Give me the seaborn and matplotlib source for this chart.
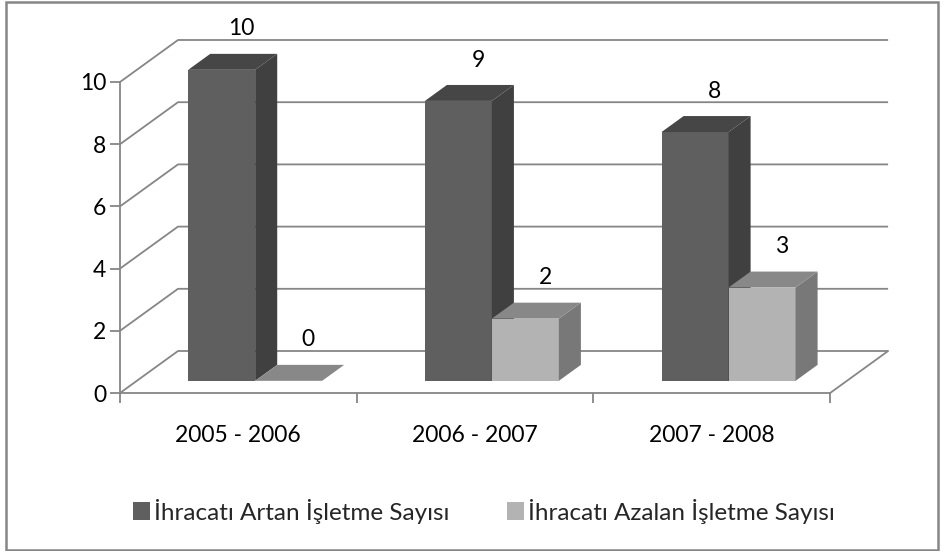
import matplotlib
matplotlib.use("Agg")
import matplotlib.pyplot as plt
import seaborn as sns
import pandas as pd
from matplotlib.patches import Polygon, Rectangle

# ---- data ----
periods = ["2005 - 2006", "2006 - 2007", "2007 - 2008"]
increased = [10, 9, 8]
decreased = [0, 2, 3]
series_names = ["İhracatı Artan İşletme Sayısı", "İhracatı Azalan İşletme Sayısı"]
y_ticks = [0, 2, 4, 6, 8, 10]

df = pd.DataFrame({
    "period": periods * 2,
    "value": increased + decreased,
    "series": [series_names[0]] * len(periods) + [series_names[1]] * len(periods),
})

# ---- style ----
sns.set_theme(style="white")
plt.rcParams["font.family"] = ["Lato", "DejaVu Sans"]
FS = 16.5
FS_LEG = 17.5
GRID = "#868686"

front_col = {series_names[0]: "#5f5f5f", series_names[1]: "#b3b3b3"}
top_col = ["#464646", "#888888"]
side_col = ["#404040", "#787878"]

W, H = 944, 551
fig = plt.figure(figsize=(W / 100, H / 100), dpi=100)
ax = fig.add_axes([120 / W, 158 / H, 768 / W, 355 / H])

sns.barplot(data=df, x="period", y="value", hue="series", palette=front_col,
            width=0.566, saturation=1, errorbar=None, linewidth=0, ax=ax)

ax.set_xlim(-0.5, -0.5 + 768 / 236.7)
ax.set_ylim(0, 355 / 31.1)

# oblique projection parameters (fraction of depth -> offsets in data units)
DX = 58 / 236.7
DY = 42 / 31.1
F0 = 0.29   # front depth of bars
FD = 0.38   # bar depth
bdx, bdy = FD * DX, FD * DY

# back wall gridlines + diagonals
for v in y_ticks:
    ax.plot([-0.5, -0.5 + DX, 2.5 + DX], [v, v + DY, v + DY], color=GRID,
            lw=1.3, zorder=1, clip_on=False, solid_capstyle="butt")
ax.plot([2.5, 2.5 + DX], [0, DY], color=GRID, lw=1.3, zorder=1, clip_on=False)

# 3D faces
for i, cont in enumerate(ax.containers):
    z = 2 + i
    for p in cont.patches:
        x0 = p.get_x() + F0 * DX
        y0 = F0 * DY
        w = p.get_width()
        h = p.get_height()
        p.set_x(x0)
        p.set_y(y0)
        p.set_zorder(z)
        side = Polygon([(x0 + w, y0), (x0 + w + bdx, y0 + bdy),
                        (x0 + w + bdx, y0 + h + bdy), (x0 + w, y0 + h)],
                       closed=True, facecolor=side_col[i], edgecolor="none", zorder=z)
        top = Polygon([(x0, y0 + h), (x0 + w, y0 + h),
                       (x0 + w + bdx, y0 + h + bdy), (x0 + bdx, y0 + h + bdy)],
                      closed=True, facecolor=top_col[i], edgecolor="none", zorder=z)
        ax.add_patch(side)
        ax.add_patch(top)
        ax.text(x0 + w / 2 + bdx - 0.01, y0 + h + bdy + 0.8, f"{h:g}",
                ha="center", va="center", fontsize=FS, color="black", zorder=5)

# spines / ticks
for s in ["top", "right"]:
    ax.spines[s].set_visible(False)
ax.spines["left"].set_bounds(0, 10)
ax.spines["bottom"].set_bounds(-0.5, 2.5)
for s in ["left", "bottom"]:
    ax.spines[s].set_color(GRID)
    ax.spines[s].set_linewidth(1.3)
    ax.spines[s].set_zorder(1)

ax.set_yticks(y_ticks)
ax.set_yticklabels([str(t) for t in y_ticks])
ax.tick_params(axis="y", length=7, width=1.3, color=GRID, direction="out",
               pad=3, labelsize=FS, labelcolor="black", left=True)
ax.set_xticks(range(len(periods)))
ax.set_xticklabels(periods)
ax.set_xticks([-0.5, 0.5, 1.5, 2.5], minor=True)
ax.tick_params(axis="x", which="major", length=0, pad=23, labelsize=FS, labelcolor="black")
ax.tick_params(axis="x", which="minor", length=7, width=1.3, color=GRID, direction="out", bottom=True)
ax.set_xlabel("")
ax.set_ylabel("")

sns.move_legend(ax, loc="center", bbox_to_anchor=(484 / W, 40 / H),
                bbox_transform=fig.transFigure, ncol=2, frameon=False, title=None,
                fontsize=FS_LEG, handlelength=0.7, handleheight=0.7,
                handletextpad=0.17, columnspacing=2.35)

fig.patches.append(Rectangle((6 / W, 1.5 / H), 932 / W, 547.5 / H, transform=fig.transFigure,
                             fill=False, edgecolor=GRID, linewidth=1.8))

fig.savefig("out.png", dpi=100)
